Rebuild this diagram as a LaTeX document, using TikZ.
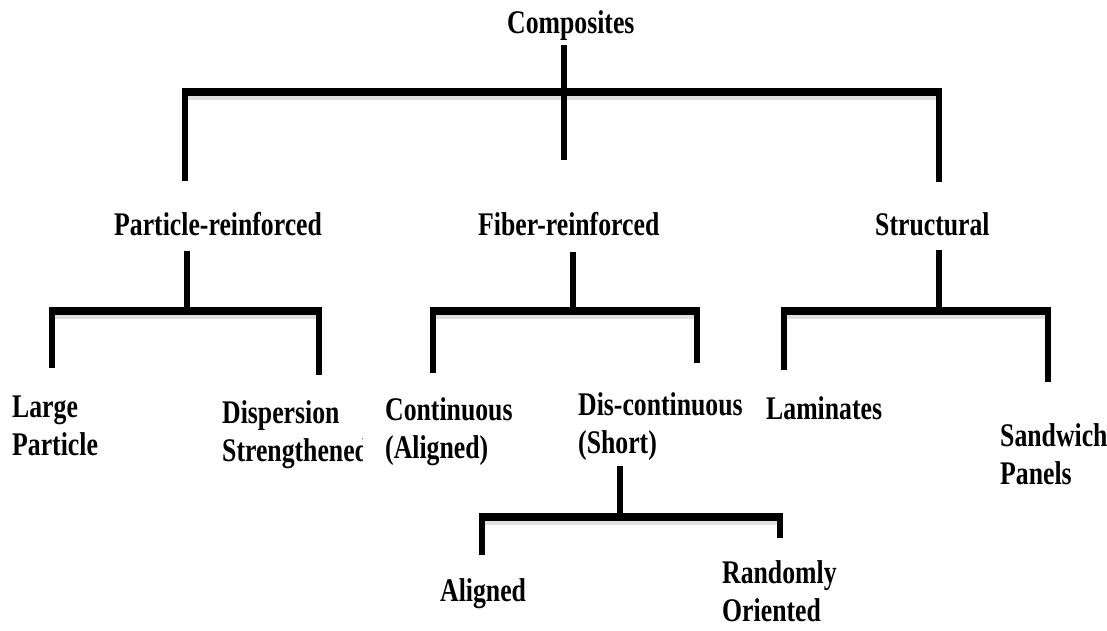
\documentclass[tikz,border=0pt]{standalone}
\usepackage{fontspec}
\setmainfont{Liberation Serif}[FakeStretch=0.78]
\begin{document}
\begin{tikzpicture}[x=1pt,y=-1pt,
  lbl/.style={anchor=base west, inner sep=0pt, align=left,
    font=\fontsize{33}{38}\selectfont\bfseries},
  vline/.style={line width=6pt, line cap=butt, draw=black},
  hbar/.style={line width=7.5pt, line cap=butt, draw=black,
    shorten <=-3pt, shorten >=-3pt,
    preaction={draw=black!12, line width=8pt, transform canvas={yshift=-4pt}}}]
\useasboundingbox (0,0) rectangle (1107,630);

% labels (multi-line nodes are placed by the baseline of their last line)
\node[lbl] (comp) at (507,33) {Composites};
\node[lbl] (part) at (114,235) {Particle-reinforced};
\node[lbl] (fib)  at (478,235) {Fiber-reinforced};
\node[lbl] (str)  at (875,235) {Structural};
\node[lbl] (lp)   at (12,455) {Large\\Particle};
\begin{scope}
  \clip (200,380) rectangle (362,480);
  \node[lbl] (ds) at (222,461) {Dispersion\\Strengthened};
\end{scope}
\node[lbl] (cont) at (385,458) {Continuous\\(Aligned)};
\node[lbl] (disc) at (578,453) {Dis-continuous\\(Short)};
\node[lbl] (lam)  at (766,419) {Laminates};
\node[lbl] (sw)   at (1000,484) {Sandwich\\Panels};
\node[lbl] (al)   at (440,601) {Aligned};
\node[lbl] (ro)   at (722,621) {Randomly\\Oriented};

% level 0 bracket
\coordinate (s0a) at (564,45);  \coordinate (s0b) at (564,160);
\coordinate (b0l) at (185,92);  \coordinate (b0r) at (939,92);
\coordinate (d0l) at (185,181); \coordinate (d0r) at (939,182);
\draw[hbar] (b0l) -- (b0r);
\draw[vline] (s0a) -- (s0b);
\draw[vline] (b0l) -- (d0l);
\draw[vline] (b0r) -- (d0r);

% particle bracket
\coordinate (s1a) at (187,251); \coordinate (s1b) at (187,311);
\coordinate (b1l) at (52,311);  \coordinate (b1r) at (319,311);
\coordinate (d1l) at (52,368);  \coordinate (d1r) at (319,375);
\draw[hbar] (b1l) -- (b1r);
\draw[vline] (s1a) -- (s1b);
\draw[vline] (b1l) -- (d1l);
\draw[vline] (b1r) -- (d1r);

% fiber bracket
\coordinate (s2a) at (573,252); \coordinate (s2b) at (573,311);
\coordinate (b2l) at (433,311); \coordinate (b2r) at (697,311);
\coordinate (d2l) at (433,373); \coordinate (d2r) at (697,363);
\draw[hbar] (b2l) -- (b2r);
\draw[vline] (s2a) -- (s2b);
\draw[vline] (b2l) -- (d2l);
\draw[vline] (b2r) -- (d2r);

% structural bracket
\coordinate (s3a) at (939,250); \coordinate (s3b) at (939,311);
\coordinate (b3l) at (784,311); \coordinate (b3r) at (1048,311);
\coordinate (d3l) at (784,370); \coordinate (d3r) at (1048,382);
\draw[hbar] (b3l) -- (b3r);
\draw[vline] (s3a) -- (s3b);
\draw[vline] (b3l) -- (d3l);
\draw[vline] (b3r) -- (d3r);

% short bracket
\coordinate (s4a) at (620,466); \coordinate (s4b) at (620,517);
\coordinate (b4l) at (482,517); \coordinate (b4r) at (780,517);
\coordinate (d4l) at (482,555); \coordinate (d4r) at (780,538);
\draw[hbar] (b4l) -- (b4r);
\draw[vline] (s4a) -- (s4b);
\draw[vline] (b4l) -- (d4l);
\draw[vline] (b4r) -- (d4r);
\end{tikzpicture}
\end{document}
